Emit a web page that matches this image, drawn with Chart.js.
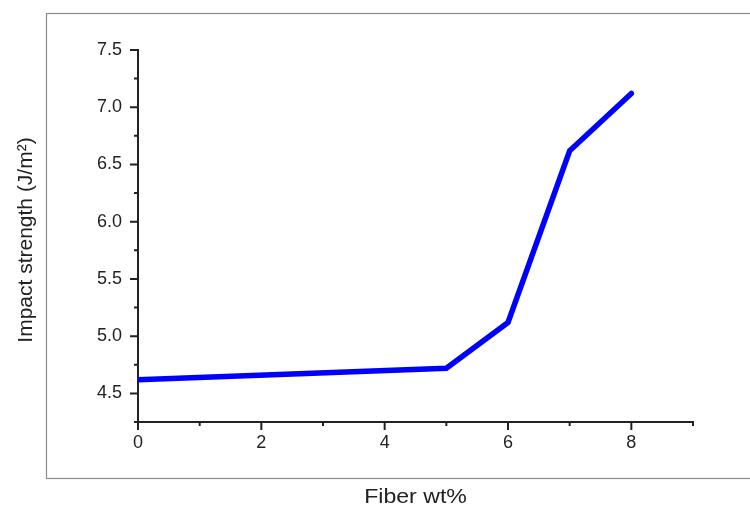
<!DOCTYPE html>
<html>
<head>
<meta charset="utf-8">
<script src="https://cdn.jsdelivr.net/npm/chart.js@4.4.1/dist/chart.umd.min.js"></script>
<style>
  body { margin: 0; background: #fff; }
  #myChart { display: block; }
</style>
</head>
<body>
<canvas id="myChart" width="750" height="505"></canvas>
<script>
// data
var fiber = [0, 5, 6, 7, 8];
var impact = [4.62, 4.72, 5.12, 6.62, 7.12];

var xTicks = [0, 2, 4, 6, 8];
var xMinor = [1, 3, 5, 7, 9];
var yTicks = [4.5, 5.0, 5.5, 6.0, 6.5, 7.0, 7.5];
var yMinor = [4.25, 4.75, 5.25, 5.75, 6.25, 6.75, 7.25];

var xTitle = 'Fiber wt%';
var yTitle = 'Impact strength (J/m²)';

var fontFam = '"Liberation Sans", Arial, sans-serif';
var ink = '#222';

// frame, tick marks and axis titles
var extras = {
    id: 'extras',
    beforeDraw: function (chart) {
        var ctx = chart.ctx;
        ctx.save();
        ctx.strokeStyle = '#8a8a8a';
        ctx.lineWidth = 1.2;
        ctx.strokeRect(46.5, 13.5, 720, 465);
        ctx.restore();
    },
    afterDraw: function (chart) {
        var ctx = chart.ctx;
        var xs = chart.scales.x;
        var ys = chart.scales.y;
        var area = chart.chartArea;
        ctx.save();
        ctx.strokeStyle = ink;
        ctx.lineWidth = 2;
        ctx.beginPath();
        xTicks.forEach(function (v) {
            var px = xs.getPixelForValue(v);
            ctx.moveTo(px, area.bottom);
            ctx.lineTo(px, area.bottom + 8);
        });
        xMinor.forEach(function (v) {
            var px = xs.getPixelForValue(v);
            ctx.moveTo(px, area.bottom);
            ctx.lineTo(px, area.bottom + 4);
        });
        yTicks.forEach(function (v) {
            var py = ys.getPixelForValue(v);
            ctx.moveTo(area.left, py);
            ctx.lineTo(area.left - 8, py);
        });
        yMinor.forEach(function (v) {
            var py = ys.getPixelForValue(v);
            ctx.moveTo(area.left, py);
            ctx.lineTo(area.left - 4, py);
        });
        ctx.stroke();

        ctx.fillStyle = ink;
        ctx.font = '21px ' + fontFam;
        ctx.textAlign = 'center';
        ctx.textBaseline = 'alphabetic';
        ctx.save();
        ctx.translate((area.left + area.right) / 2, 503);
        ctx.scale(1.1, 1);
        ctx.fillText(xTitle, 0, 0);
        ctx.restore();

        ctx.translate(32, (area.top + area.bottom) / 2 + 4);
        ctx.rotate(-Math.PI / 2);
        ctx.fillText(yTitle, 0, 0);
        ctx.restore();
    }
};

let myChart = document.getElementById('myChart').getContext('2d');

let impactChart = new Chart(myChart, {
    type: 'line',
    data: {
        datasets: [{
            label: 'Impact strength',
            data: fiber.map(function (f, i) { return { x: f, y: impact[i] }; }),
            borderColor: '#0000ff',
            backgroundColor: '#0000ff',
            borderWidth: 5.5,
            borderCapStyle: 'round',
            borderJoinStyle: 'miter',
            pointRadius: 0,
            tension: 0,
            fill: false
        }]
    },
    options: {
        responsive: false,
        animation: false,
        layout: { padding: { left: 0, top: 50, right: 57, bottom: 0 } },
        plugins: {
            legend: { display: false },
            tooltip: { enabled: false }
        },
        scales: {
            x: {
                type: 'linear',
                min: 0,
                max: 9,
                afterBuildTicks: function (s) { s.ticks = xTicks.map(function (v) { return { value: v }; }); },
                afterFit: function (s) { s.height = 83; },
                grid: { display: false, drawTicks: false },
                border: { display: true, color: ink, width: 2 },
                ticks: {
                    color: ink,
                    padding: 10,
                    maxRotation: 0,
                    font: { family: fontFam, size: 18 },
                    callback: function (v) { return v; }
                }
            },
            y: {
                type: 'linear',
                min: 4.25,
                max: 7.5,
                afterBuildTicks: function (s) { s.ticks = yTicks.map(function (v) { return { value: v }; }); },
                afterFit: function (s) { s.width = 138; },
                grid: { display: false, drawTicks: false },
                border: { display: true, color: ink, width: 2 },
                ticks: {
                    color: ink,
                    padding: 16,
                    font: { family: fontFam, size: 18 },
                    callback: function (v) { return v.toFixed(1); }
                }
            }
        }
    },
    plugins: [extras]
});
</script>
</body>
</html>
